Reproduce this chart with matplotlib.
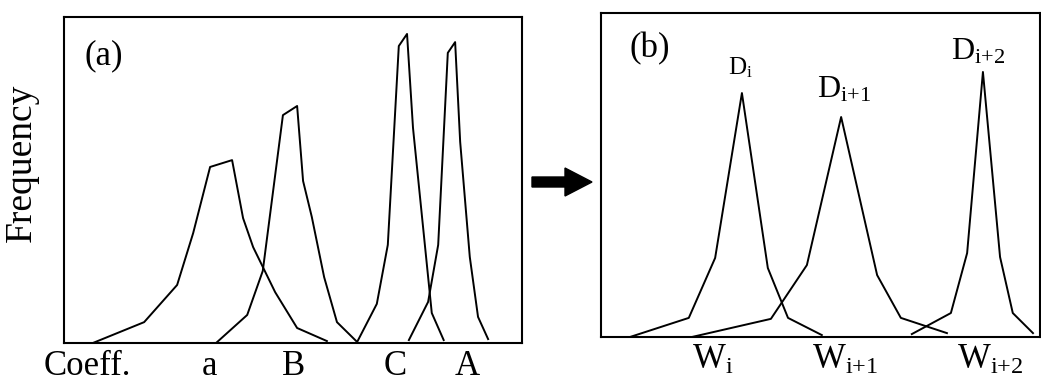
import matplotlib
matplotlib.use("Agg")
import matplotlib.pyplot as plt

plt.rcParams['font.family'] = ['Liberation Serif', 'DejaVu Serif']
plt.rcParams['mathtext.default'] = 'regular'

# panel (a): coefficient distributions (x = coefficient, y = frequency)
a_x = [6.3, 17.5, 24.7, 28.2, 31.9, 36.7, 39.1, 41.3, 46.1, 50.9, 57.4]
a_y = [0, 6.4, 17.8, 33.7, 54.0, 56.1, 38.3, 29.4, 15.6, 4.6, 0.6]
B_x = [33.2, 40.0, 43.4, 47.8, 50.9, 52.2, 54.1, 56.8, 59.6, 63.8]
B_y = [0, 8.6, 22.1, 69.9, 72.7, 49.7, 38.7, 20.2, 6.4, 0.6]
C_x = [64.0, 68.3, 70.7, 73.1, 74.9, 76.2, 80.3, 82.9]
C_y = [0.3, 12.0, 30.1, 91.1, 94.8, 66.0, 9.2, 0.9]
A_x = [75.3, 79.5, 81.7, 83.8, 85.4, 86.5, 88.6, 90.4, 92.6]
A_y = [0.9, 12.6, 30.1, 89.0, 92.3, 61.7, 26.4, 8.0, 1.2]
coeff_ticks = [5.0, 31.7, 50.2, 72.3, 88.0]
coeff_labels = ['Coeff.', 'a', 'B', 'C', 'A']

# panel (b): word distributions
Di_x = [6.6, 20.0, 26.0, 32.1, 38.0, 42.6, 50.3]
Di_y = [0, 5.9, 24.4, 75.3, 21.3, 5.9, 0.6]
Di1_x = [20.7, 38.7, 46.9, 54.7, 62.9, 68.3, 78.8]
Di1_y = [0, 5.6, 22.2, 67.9, 19.1, 5.9, 1.2]
Di2_x = [70.8, 79.7, 83.4, 87.0, 90.9, 93.8, 98.4]
Di2_y = [0.9, 7.4, 25.9, 81.8, 24.7, 7.4, 1.2]
w_ticks = [25.5, 55.6, 88.6]
w_labels = ['$W_i$', '$W_{i{+}1}$', '$W_{i{+}2}$']
d_labels = ['$D_i$', '$D_{i{+}1}$', '$D_{i{+}2}$']
d_pos = [(31.7, 80.9), (55.4, 73.8), (85.9, 85.5)]
d_size = [18, 23, 23]

fig = plt.figure(figsize=(10.41, 3.83), dpi=100)

# background axes in pixel units for the arrow
bg = fig.add_axes([0, 0, 1, 1])
bg.set_xlim(0, 1041)
bg.set_ylim(383, 0)
bg.axis('off')
bg.arrow(532, 182, 60, 0, width=10, head_width=28, head_length=27,
         length_includes_head=True, color='k')

ax1 = fig.add_axes([64/1041, 1-343/383, 458/1041, 326/383])
for xs, ys in [(a_x, a_y), (B_x, B_y), (C_x, C_y), (A_x, A_y)]:
    ax1.plot(xs, ys, color='k', lw=1.4)
ax1.set_xlim(0, 100)
ax1.set_ylim(0, 100)
ax1.set_yticks([])
ax1.set_xticks(coeff_ticks)
ax1.set_xticklabels(coeff_labels, fontsize=25)
ax1.tick_params(axis='x', length=0, pad=5)
ax1.text(4.5, 88, '(a)', fontsize=25, va='center', ha='left')
for s in ax1.spines.values():
    s.set_linewidth(1.5)

ax2 = fig.add_axes([601/1041, 1-337/383, 439/1041, 324/383])
for xs, ys in [(Di_x, Di_y), (Di1_x, Di1_y), (Di2_x, Di2_y)]:
    ax2.plot(xs, ys, color='k', lw=1.4)
ax2.set_xlim(0, 100)
ax2.set_ylim(0, 100)
ax2.set_yticks([])
ax2.set_xticks(w_ticks)
ax2.set_xticklabels(w_labels, fontsize=25)
ax2.tick_params(axis='x', length=0, pad=5)
ax2.text(6.5, 89, '(b)', fontsize=25, va='center', ha='left')
for lab, (x, y), fs in zip(d_labels, d_pos, d_size):
    ax2.text(x, y, lab, fontsize=fs, ha='center', va='baseline')
for s in ax2.spines.values():
    s.set_linewidth(1.5)

fig.text(22/1041, 1-163/383, 'Frequency', rotation=90, fontsize=27,
         ha='center', va='center')

fig.savefig('out.png', dpi=100)
